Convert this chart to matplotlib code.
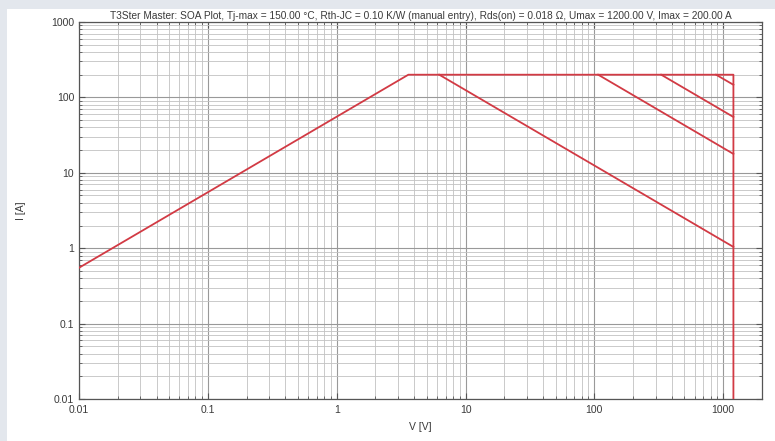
"""
SOA (safe operating area) plot for a power MOSFET, log-log V/I axes.
"""

import matplotlib
matplotlib.use("Agg")
import matplotlib.pyplot as plt
from matplotlib.patches import Rectangle
from matplotlib.ticker import LogLocator, FixedLocator, FuncFormatter

plt.rcParams["font.family"] = ["Liberation Sans", "DejaVu Sans"]

TITLE = ("T3Ster Master: SOA Plot, Tj-max = 150.00 °C, Rth-JC = 0.10 K/W (manual entry), "
         "Rds(on) = 0.018 Ω, Umax = 1200.00 V, Imax = 200.00 A")

# outer limit: Rds(on) ramp, Imax, Umax
limit_v = [0.01, 3.6, 1200.0, 1200.0]
limit_i = [0.55, 200.0, 200.0, 0.01]

# power-limited lines (DC and pulses): from Imax at start_v down to end_i at Umax
imax = 200.0
umax = 1200.0
pulse_start_v = [6.25, 107.0, 330.0, 880.0]
pulse_end_i = [1.04, 17.8, 55.0, 147.0]

x_ticks = [0.01, 0.1, 1, 10, 100, 1000]
y_ticks = [0.01, 0.1, 1, 10, 100, 1000]

RED = "#d23a44"
TXT = "#3a3a3a"

fig = plt.figure(figsize=(7.75, 4.41), dpi=100, facecolor="white")
# light frame along top and left edges
fig.patches.append(Rectangle((0, 1 - 9 / 441), 1, 9 / 441, transform=fig.transFigure,
                             facecolor="#e3e7ed", edgecolor="none", zorder=-1))
fig.patches.append(Rectangle((0, 0), 7 / 775, 1, transform=fig.transFigure,
                             facecolor="#e3e7ed", edgecolor="none", zorder=-1))

ax = fig.add_axes([79 / 775, 1 - 399 / 441, (762 - 79) / 775, (399 - 22) / 441])
ax.set_xscale("log")
ax.set_yscale("log")
ax.set_xlim(0.01, 2000)
ax.set_ylim(0.01, 1000)

ax.plot(limit_v, limit_i, color=RED, lw=1.3, zorder=3)
for v0, i1 in zip(pulse_start_v, pulse_end_i):
    ax.plot([v0, umax], [imax, i1], color=RED, lw=1.3, zorder=3)

ax.xaxis.set_major_locator(FixedLocator(x_ticks))
ax.yaxis.set_major_locator(FixedLocator(y_ticks))
ax.xaxis.set_minor_locator(LogLocator(base=10, subs=range(2, 10), numticks=20))
ax.yaxis.set_minor_locator(LogLocator(base=10, subs=range(2, 10), numticks=20))
fmt = FuncFormatter(lambda v, p: f"{v:g}")
ax.xaxis.set_major_formatter(fmt)
ax.yaxis.set_major_formatter(fmt)

ax.grid(which="major", color="#999999", lw=0.8)
ax.grid(which="minor", color="#c2c2c2", lw=0.6)
ax.set_axisbelow(True)

ax.tick_params(which="both", direction="in", top=True, right=True,
               colors="#555555", labelcolor=TXT, labelsize=7.5)
ax.tick_params(which="major", length=4, width=0.8)
ax.tick_params(which="minor", length=2.5, width=0.6)
ax.tick_params(axis="x", pad=4)
for s in ax.spines.values():
    s.set_color("#555555")
    s.set_linewidth(0.9)

ax.set_title(TITLE, fontsize=7.3, color=TXT, pad=2)
ax.set_xlabel("V [V]", fontsize=7.5, color=TXT, labelpad=5)
ax.set_ylabel("I [A]", fontsize=7.5, color=TXT, labelpad=18)

fig.savefig("out.png", dpi=100, facecolor=fig.get_facecolor())
